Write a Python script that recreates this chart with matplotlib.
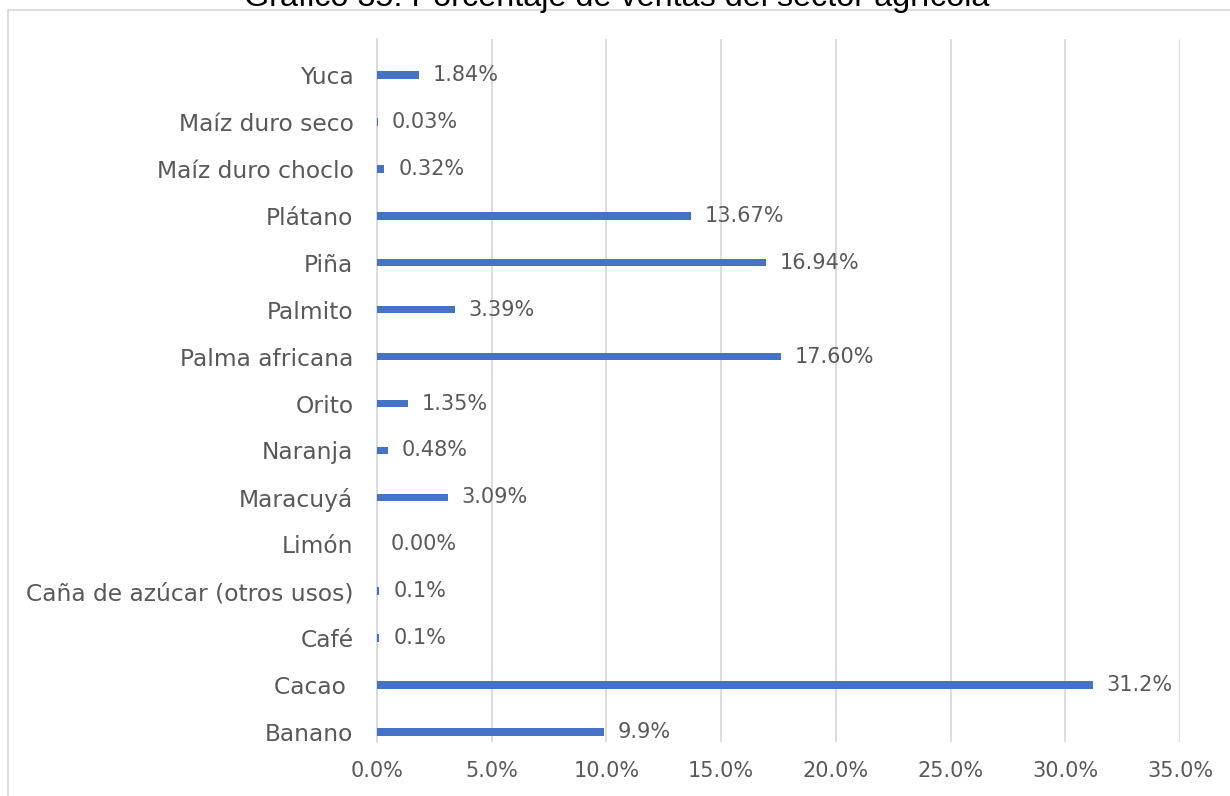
import matplotlib
matplotlib.use('Agg')
import matplotlib.pyplot as plt
from matplotlib.patches import Rectangle
from matplotlib.ticker import FuncFormatter

W, H, DPI = 1230, 796, 100

# data (bottom to top, as drawn)
cultivos = ['Banano', 'Cacao ', 'Café', 'Caña de azúcar (otros usos)', 'Limón',
            'Maracuyá', 'Naranja', 'Orito', 'Palma africana', 'Palmito',
            'Piña', 'Plátano', 'Maíz duro choclo', 'Maíz duro seco', 'Yuca']
valores = [9.9, 31.2, 0.1, 0.1, 0.0, 3.09, 0.48, 1.35, 17.60, 3.39,
           16.94, 13.67, 0.32, 0.03, 1.84]
etiquetas = ['9.9%', '31.2%', '0.1%', '0.1%', '0.00%', '3.09%', '0.48%', '1.35%',
             '17.60%', '3.39%', '16.94%', '13.67%', '0.32%', '0.03%', '1.84%']
x_ticks = [0, 5, 10, 15, 20, 25, 30, 35]

TXT = '#595959'
GRID = '#d9d9d9'
BLUE = '#4472c4'
FONT = 'DejaVu Sans'

fig = plt.figure(figsize=(W/DPI, H/DPI), dpi=DPI)
fig.patch.set_facecolor('white')

# outer chart border (cropped at right/bottom)
fig.add_artist(Rectangle((8/W, -0.05), 1.2, 1 - 10/H + 0.05, transform=fig.transFigure,
                         fc='none', ec=GRID, lw=1.3))

# title, cut off at the top like the source
fig.text(617/W, 1 - 6/H, 'Gráfico 35. Porcentaje de ventas del sector agrícola',
         ha='center', va='baseline', fontsize=23.3, color='black', family='Liberation Sans')

ax = fig.add_axes([377/W, 1 - 742/H, (1180 - 377)/W, (742 - 39)/H])
y = list(range(len(cultivos)))
ax.barh(y, valores, height=0.16, color=BLUE, zorder=3)

for yi, v, lab in zip(y, valores, etiquetas):
    ax.annotate(lab, xy=(v, yi), xytext=(10, 0), textcoords='offset points',
                ha='left', va='center', fontsize=15, color=TXT, family=FONT)

ax.set_xlim(0, 35)
ax.set_ylim(-0.213, len(cultivos) - 1 + 0.768)
ax.set_xticks(x_ticks)
ax.xaxis.set_major_formatter(FuncFormatter(lambda v, p: f'{v:.1f}%'))
ax.set_yticks(y)
ax.set_yticklabels(cultivos)
for lab in ax.get_xticklabels():
    lab.set_fontsize(15)
    lab.set_color(TXT)
    lab.set_family(FONT)
for lab in ax.get_yticklabels():
    lab.set_fontsize(16.8)
    lab.set_color(TXT)
    lab.set_family(FONT)

ax.grid(axis='x', color=GRID, lw=1.3, zorder=0)
for s in ['top', 'right', 'bottom']:
    ax.spines[s].set_visible(False)
ax.spines['left'].set_color(GRID)
ax.spines['left'].set_linewidth(1.3)
ax.tick_params(axis='both', length=0)
ax.tick_params(axis='x', pad=14)
ax.tick_params(axis='y', pad=17)

fig.savefig('out.png', dpi=DPI, facecolor='white')
